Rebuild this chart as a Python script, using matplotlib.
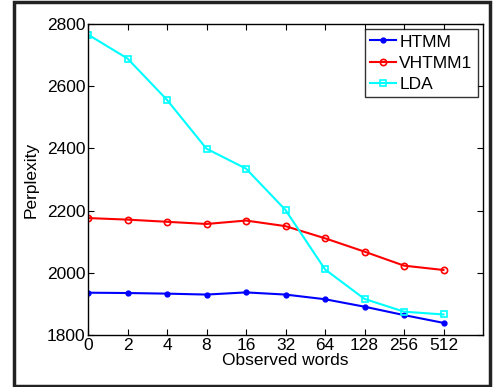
import matplotlib
matplotlib.use("Agg")
import matplotlib.pyplot as plt
from matplotlib.patches import Rectangle

categories = ["0", "2", "4", "8", "16", "32", "64", "128", "256", "512"]
htmm = [1936, 1935, 1933, 1930, 1937, 1930, 1915, 1891, 1864, 1839]
vhtmm1 = [2176, 2171, 2164, 2157, 2168, 2150, 2111, 2068, 2023, 2009]
lda = [2766, 2689, 2556, 2399, 2335, 2202, 2011, 1916, 1875, 1866]
yticks = [1800, 2000, 2200, 2400, 2600, 2800]

plt.rcParams['font.family'] = ['Liberation Sans', 'DejaVu Sans']
fig = plt.figure(figsize=(5.04, 3.87), dpi=100)
ax = fig.add_axes([88/504, 1 - 335/387, (483-88)/504, (335-24)/387])

x = list(range(len(categories)))
ax.plot(x, htmm, color='#0000ff', marker='o', markersize=3.5, lw=1.5, label='HTMM')
ax.plot(x, vhtmm1, color='#ff0000', marker='o', markersize=4.5, mfc='none', mew=1.2, lw=1.5, label='VHTMM1')
ax.plot(x, lda, color='#00ffff', marker='s', markersize=4, mfc='none', mew=1.2, lw=1.5, label='LDA')

ax.set_xlim(0, 10)
ax.set_ylim(1800, 2800)
ax.set_xticks(x)
ax.set_xticklabels(categories)
ax.set_yticks(yticks)
ax.tick_params(direction='in', top=True, right=True, length=4, width=0.8, labelsize=12.5, pad=2)
for s in ax.spines.values():
    s.set_linewidth(1.0)
ax.set_xlabel('Observed words', fontsize=12.5, labelpad=0)
ax.set_ylabel('Perplexity', fontsize=12.5, labelpad=6)

leg = ax.legend(loc='upper right', fontsize=12.5, frameon=True, fancybox=False,
                edgecolor='black', borderpad=0.3, labelspacing=0.35,
                handlelength=1.5, handletextpad=0.2, borderaxespad=0.3)
leg.get_frame().set_linewidth(1.0)

fig.patches.append(Rectangle((13.5/504, 1.5/387), (489.5-13.5)/504, (385.5-1.5)/387,
                             transform=fig.transFigure, fill=False,
                             edgecolor='#222222', linewidth=2.5))

fig.savefig('out.png', dpi=100)
